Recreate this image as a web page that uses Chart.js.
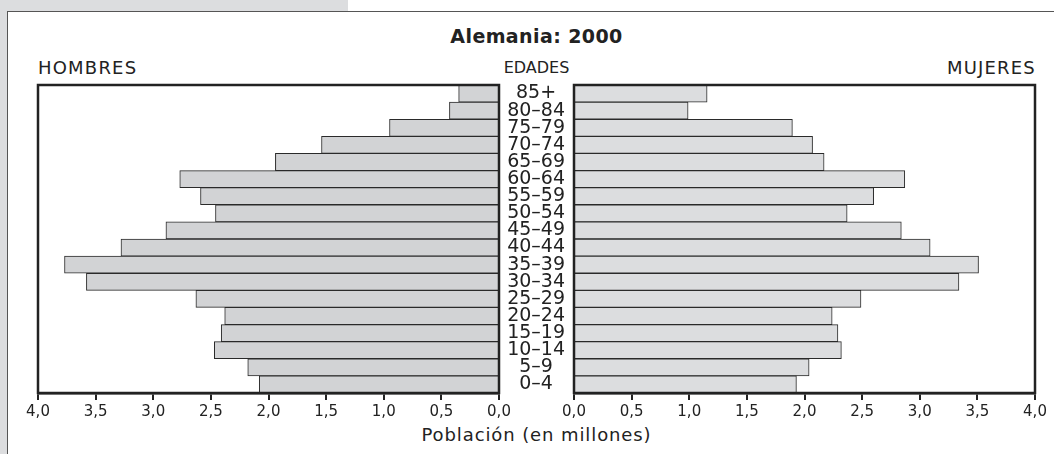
<!DOCTYPE html>
<html>
<head>
<meta charset="utf-8">
<script src="https://cdn.jsdelivr.net/npm/chart.js@4.4.1/dist/chart.umd.min.js"></script>
<style>
  html, body { margin: 0; padding: 0; background: #fff; }
  body { width: 1054px; height: 454px; position: relative; overflow: hidden; font-family: 'DejaVu Sans', Verdana, sans-serif; color: #222; }
  .band { position: absolute; background: #dcdddf; }
  .frame { position: absolute; left: 7px; top: 11px; right: 0; bottom: 0; border-top: 1.5px solid #555; border-left: 1.5px solid #555; }
  .txt { position: absolute; white-space: nowrap; }
  canvas { position: absolute; top: 0; }
</style>
</head>
<body>
<div class="band" style="left:0;top:0;width:348px;height:11px"></div>
<div class="band" style="left:0;top:0;width:7px;height:454px"></div>
<div class="frame"></div>

<div class="txt" id="title" style="left:0;width:1073px;top:27px;text-align:center;font-weight:bold;font-size:19px;line-height:19px;letter-spacing:0.4px"></div>
<div class="txt" id="lblLeft" style="left:38px;top:58px;font-size:18px;line-height:19px;letter-spacing:1.2px"></div>
<div class="txt" id="lblMid" style="left:0;width:1073px;top:60px;text-align:center;font-size:16px;line-height:16px"></div>
<div class="txt" id="lblRight" style="right:18px;top:58px;font-size:18px;line-height:19px;letter-spacing:1.2px"></div>
<div class="txt" id="xTitle" style="left:0;width:1073px;top:425px;text-align:center;font-size:18px;line-height:19px;letter-spacing:0.9px"></div>

<canvas id="left-chart" width="527" height="454" style="left:0"></canvas>
<canvas id="right-chart" width="554" height="454" style="left:500px"></canvas>

<script>
const chartTitle = 'Alemania: 2000';
const leftLabel = 'HOMBRES';
const middleLabel = 'EDADES';
const rightLabel = 'MUJERES';
const axisTitle = 'Población (en millones)';

// age groups, top to bottom
const ageGroups = ['85+', '80–84', '75–79', '70–74', '65–69', '60–64', '55–59', '50–54', '45–49',
  '40–44', '35–39', '30–34', '25–29', '20–24', '15–19', '10–14', '5–9', '0–4'];

// millions
const hombres = [0.35, 0.43, 0.95, 1.54, 1.94, 2.77, 2.59, 2.46, 2.89,
  3.28, 3.77, 3.58, 2.63, 2.38, 2.41, 2.47, 2.18, 2.08];
const mujeres = [1.155, 0.99, 1.895, 2.07, 2.17, 2.87, 2.60, 2.37, 2.84,
  3.09, 3.51, 3.34, 2.49, 2.24, 2.29, 2.32, 2.04, 1.93];

const axisMin = 0;
const axisMax = 4;
const axisStep = 0.5;

document.getElementById('title').textContent = chartTitle;
document.getElementById('lblLeft').textContent = leftLabel;
document.getElementById('lblMid').textContent = middleLabel;
document.getElementById('lblRight').textContent = rightLabel;
document.getElementById('xTitle').textContent = axisTitle;

Chart.defaults.font.family = "'DejaVu Sans', Verdana, sans-serif";
Chart.defaults.color = '#222';

const ink = '#222';

// box around each panel
const panelFrame = {
  id: 'panelFrame',
  afterDraw(chart) {
    const { ctx, chartArea } = chart;
    ctx.save();
    ctx.strokeStyle = ink;
    ctx.lineWidth = 2.5;
    ctx.strokeRect(chartArea.left, chartArea.top, chartArea.right - chartArea.left, chartArea.bottom - chartArea.top);
    ctx.restore();
  }
};

function commaTick(value) {
  return Number(value).toFixed(1).replace('.', ',');
}

function xScale(reverse) {
  return {
    type: 'linear',
    reverse,
    min: axisMin,
    max: axisMax,
    afterFit(scale) { scale.height = 40; },
    afterBuildTicks(scale) {
      const ticks = [];
      for (let v = axisMin; v <= axisMax + 1e-9; v += axisStep) ticks.push({ value: +v.toFixed(2) });
      scale.ticks = ticks;
    },
    grid: { display: true, drawOnChartArea: false, drawTicks: true, tickLength: 7, color: ink, lineWidth: 2 },
    border: { display: true, color: ink, width: 2.5 },
    ticks: { font: { size: 15 }, color: ink, padding: 3, maxRotation: 0, autoSkip: false, callback: commaTick }
  };
}

function pyramidSide(canvasId, values, fill, reverse, padding, showAges) {
  const ctx = document.getElementById(canvasId).getContext('2d');
  return new Chart(ctx, {
    type: 'bar',
    data: {
      labels: ageGroups,
      datasets: [{
        data: values,
        backgroundColor: fill,
        borderColor: '#2a2a2a',
        borderWidth: 1,
        categoryPercentage: 1,
        barPercentage: 1
      }]
    },
    options: {
      indexAxis: 'y',
      responsive: false,
      animation: false,
      layout: { padding },
      plugins: { legend: { display: false }, tooltip: { enabled: false } },
      scales: {
        x: xScale(reverse),
        y: {
          display: showAges,
          afterFit(scale) { if (showAges) scale.width = 74; },
          grid: { display: false },
          border: { display: false },
          ticks: { font: { size: 19 }, color: ink, padding: 1, crossAlign: 'center', autoSkip: false }
        }
      }
    },
    plugins: [panelFrame]
  });
}

pyramidSide('left-chart', hombres, '#d2d3d5', true, { left: 38, top: 85, right: 28, bottom: 21 }, false);
pyramidSide('right-chart', mujeres, '#dcdddf', false, { left: 0, top: 85, right: 19, bottom: 21 }, true);
</script>
</body>
</html>
